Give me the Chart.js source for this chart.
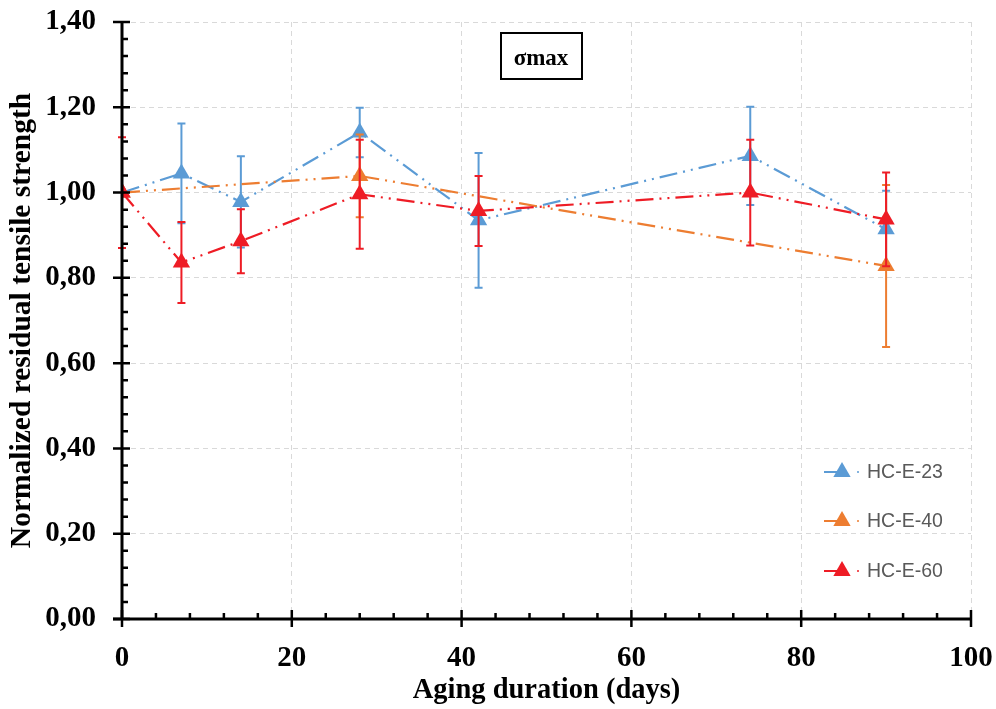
<!DOCTYPE html>
<html>
<head>
<meta charset="utf-8">
<script src="https://cdn.jsdelivr.net/npm/chart.js@4.4.1/dist/chart.umd.min.js"></script>
<style>
  html, body { margin: 0; padding: 0; background: #ffffff; }
  #wrap { width: 996px; height: 709px; position: relative; }
</style>
</head>
<body>
<div id="wrap"><canvas id="c" width="996" height="709"></canvas></div>
<script>
// ---- Data ----
const chartTitle = "σmax";
const xTitle = "Aging duration (days)";
const yTitle = "Normalized residual tensile strength";
const seriesLabels = ["HC-E-23", "HC-E-40", "HC-E-60"];

const days23 = [0, 7, 14, 28, 42, 74, 90];
const hc23   = [1.00, 1.045, 0.978, 1.141, 0.935, 1.086, 0.914];
const err23  = [0.00, 0.117, 0.107, 0.058, 0.158, 0.115, 0.090];

const days40 = [0, 28, 90];
const hc40   = [1.00, 1.039, 0.828];
const err40  = [0.00, 0.097, 0.190];

const days60 = [0, 7, 14, 28, 42, 74, 90];
const hc60   = [1.00, 0.836, 0.886, 0.996, 0.957, 1.000, 0.937];
const err60  = [0.130, 0.095, 0.075, 0.128, 0.082, 0.124, 0.110];

const xTicks = [0, 20, 40, 60, 80, 100];
const yTicks = [0, 0.2, 0.4, 0.6, 0.8, 1.0, 1.2, 1.4];

// ---- Styles ----
const colors = ["#5B9BD5", "#ED7D31", "#EE1C25"];
const dashPattern = [18, 6, 2, 6, 2, 6];
const serif = "'Liberation Serif', 'Times New Roman', serif";

function pts(xs, ys) { return xs.map((x, i) => ({ x: x, y: ys[i] })); }

const errs = [err23, err40, err60];

const datasets = [
  { label: seriesLabels[0], data: pts(days23, hc23), order: 3 },
  { label: seriesLabels[1], data: pts(days40, hc40), order: 2 },
  { label: seriesLabels[2], data: pts(days60, hc60), order: 1 }
].map((d, i) => Object.assign(d, {
  showLine: true,
  borderColor: colors[i],
  backgroundColor: colors[i],
  borderWidth: 2.2,
  borderDash: dashPattern,
  pointStyle: 'triangle',
  pointRadius: 10,
  pointHoverRadius: 10,
  pointBorderWidth: 0,
  pointBackgroundColor: colors[i],
  tension: 0
}));

// Error bars: drawn through the scales
const errorBarPlugin = {
  id: 'errorBars',
  beforeDatasetDraw(chart, args) {
    const i = args.index;
    const meta = args.meta;
    const ys = chart.scales.y;
    const ctx = chart.ctx;
    const ds = chart.data.datasets[i];
    ctx.save();
    ctx.strokeStyle = colors[i];
    ctx.lineWidth = 2;
    ctx.setLineDash([]);
    meta.data.forEach((el, j) => {
      const e = errs[i][j];
      if (!e) return;
      const v = ds.data[j].y;
      const px = el.x;
      const top = ys.getPixelForValue(v + e);
      const bot = ys.getPixelForValue(v - e);
      ctx.beginPath();
      ctx.moveTo(px, top); ctx.lineTo(px, bot);
      ctx.moveTo(px - 4, top); ctx.lineTo(px + 4, top);
      ctx.moveTo(px - 4, bot); ctx.lineTo(px + 4, bot);
      ctx.stroke();
    });
    ctx.restore();
  }
};

// Axis ticks (major crossing, minor inside), legend and title box
const decorPlugin = {
  id: 'decor',
  afterDatasetsDraw(chart) {
    const ctx = chart.ctx;
    const xs = chart.scales.x, ys = chart.scales.y;
    const ca = chart.chartArea;
    ctx.save();
    ctx.strokeStyle = '#000';
    ctx.setLineDash([]);
    // axis lines
    ctx.lineWidth = 3;
    ctx.beginPath();
    ctx.moveTo(ca.left, ca.top); ctx.lineTo(ca.left, ca.bottom);
    ctx.moveTo(ca.left - 9, ca.bottom); ctx.lineTo(ca.right, ca.bottom);
    ctx.stroke();
    ctx.lineWidth = 2.5;
    ctx.beginPath();
    // y ticks
    for (let k = 0; k <= 35; k++) {
      const v = k * 0.04;
      const py = ys.getPixelForValue(v);
      if (k % 5 === 0) { ctx.moveTo(ca.left - 9, py); ctx.lineTo(ca.left + 8, py); }
      else { ctx.moveTo(ca.left, py); ctx.lineTo(ca.left + 6, py); }
    }
    // x ticks
    for (let k = 0; k <= 25; k++) {
      const v = k * 4;
      const px = xs.getPixelForValue(v);
      if (k % 5 === 0) { ctx.moveTo(px, ca.bottom - 9); ctx.lineTo(px, ca.bottom + 8); }
      else { ctx.moveTo(px, ca.bottom - 6); ctx.lineTo(px, ca.bottom); }
    }
    ctx.stroke();

    // legend
    const lx = 824, ly = [472, 521, 571];
    chart.data.datasets.forEach((ds, i) => {
      const y = ly[i];
      ctx.strokeStyle = colors[i];
      ctx.fillStyle = colors[i];
      ctx.lineWidth = 2;
      ctx.beginPath();
      ctx.moveTo(lx, y); ctx.lineTo(lx + 22, y);
      ctx.stroke();
      ctx.beginPath();
      ctx.arc(lx + 34, y, 1, 0, Math.PI * 2);
      ctx.fill();
      // triangle
      const r = 10, cx = lx + 18;
      ctx.beginPath();
      ctx.moveTo(cx, y - r);
      ctx.lineTo(cx + r * 0.866, y + r * 0.5);
      ctx.lineTo(cx - r * 0.866, y + r * 0.5);
      ctx.closePath();
      ctx.fill();
      ctx.fillStyle = '#595959';
      ctx.font = "19.5px 'Liberation Sans', Arial, sans-serif";
      ctx.textAlign = 'left';
      ctx.textBaseline = 'middle';
      ctx.fillText(ds.label, 867, y + 1);
    });

    // title box
    ctx.fillStyle = '#fff';
    ctx.fillRect(501, 33, 81, 46);
    ctx.strokeStyle = '#000';
    ctx.lineWidth = 2;
    ctx.strokeRect(501, 33, 81, 46);
    ctx.fillStyle = '#000';
    ctx.font = "bold 23px " + serif;
    ctx.textAlign = 'center';
    ctx.textBaseline = 'middle';
    ctx.fillText(chartTitle, 541, 59);
    ctx.restore();
  }
};

const chart = new Chart(document.getElementById('c'), {
  type: 'scatter',
  data: { datasets: datasets },
  plugins: [errorBarPlugin, decorPlugin],
  options: {
    responsive: false,
    animation: false,
    events: [],
    layout: { padding: { top: 22, right: 25, left: 0, bottom: 0 } },
    plugins: {
      legend: { display: false },
      tooltip: { enabled: false },
      title: { display: false }
    },
    scales: {
      x: {
        type: 'linear',
        min: 0, max: 100,
        afterBuildTicks(s) { s.ticks = xTicks.map(v => ({ value: v })); },
        afterFit(s) { s.height = 90; s.paddingLeft = 0; s.paddingRight = 0; },
        grid: { color: '#d9d9d9', lineWidth: 1, drawTicks: false },
        border: { display: false, dash: [5, 4] },
        ticks: {
          color: '#000',
          padding: 22,
          maxRotation: 0,
          font: { family: serif, size: 29, weight: 'bold' },
          callback: v => String(v)
        },
        title: {
          display: true, text: xTitle, color: '#000',
          font: { family: serif, size: 28.5, weight: 'bold' },
          padding: { top: 0, bottom: 1 }
        }
      },
      y: {
        type: 'linear',
        min: 0, max: 1.4,
        afterBuildTicks(s) { s.ticks = yTicks.map(v => ({ value: v })); },
        afterFit(s) { s.width = 122; s.paddingTop = 0; s.paddingBottom = 0; },
        grid: { color: '#d9d9d9', lineWidth: 1, drawTicks: false },
        border: { display: false, dash: [5, 4] },
        ticks: {
          color: '#000',
          padding: 26,
          font: { family: serif, size: 29, weight: 'bold' },
          callback: v => v.toFixed(2).replace('.', ',')
        },
        title: {
          display: true, text: yTitle, color: '#000',
          font: { family: serif, size: 29.5, weight: 'bold' },
          padding: { top: 5, bottom: 0 }
        }
      }
    }
  }
});
</script>
</body>
</html>
